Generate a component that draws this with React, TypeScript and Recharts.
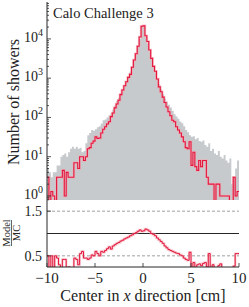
import React from "react";
import { ComposedChart, Area, Line, XAxis, YAxis, ReferenceLine } from "recharts";

const X_MIN = -10;
const X_MAX = 10;
const BIN_WIDTH = 0.2;

// counts per 0.2 cm bin
const mcCounts = [
  5, 4, 3, 4, 4, 6, 6, 10, 11, 12,
  10, 13, 16, 18, 16, 18, 16, 17, 13, 14,
  22, 35, 40, 48, 46, 50, 56, 60, 70, 85,
  89, 100, 112, 126, 158, 200, 263, 316, 417, 525,
  660, 851, 1120, 1480, 2000, 2820, 3980, 6310, 10000, 20400,
  20400, 11200, 7600, 4800, 3160, 2000, 1410, 955, 708, 525,
  398, 302, 251, 209, 178, 148, 120, 105, 93, 79,
  71, 60, 48, 42, 35, 32, 33, 28, 30, 25,
  24, 26, 20, 18, 22, 14, 16, 12, 11, 14,
  10, 9, 11, 8, 7, 9, 2, 3, 5, 8,
];

const modelCounts = [
  3, 0, 1.3, 1, 0, 3, 3, 3, 4.5, 1,
  4, 3, 3, 3, 7, 7, 5, 10, 10, 8,
  10, 16, 17, 22, 25, 32, 29, 30, 40, 50,
  58, 68, 78, 105, 130, 175, 220, 275, 380, 500,
  640, 810, 1050, 1250, 1900, 2900, 4200, 6500, 11200, 21000,
  21500, 12000, 8600, 5200, 3200, 2000, 1500, 950, 600, 450,
  330, 240, 185, 140, 110, 85, 78, 58, 48, 40,
  32, 24, 17, 16, 24, 6, 13, 5.6, 4.5, 8,
  5.6, 8, 8, 3, 2, 2, 2, 0, 2, 2,
  1, 1, 1, 1, 1, 0, 0, 3, 1, 1.3,
];

const ratioValues = [
  0.5, 0, 0.5, 0, 0.5, 0.45, 0.3, 0.2, 0.42, 0.42,
  0.2, 0.25, 0.2, 0.2, 0.45, 0.42, 0.3, 0.55, 0.6, 0.45,
  0.45, 0.42, 0.45, 0.52, 0.5, 0.6, 0.55, 0.5, 0.6, 0.58,
  0.62, 0.66, 0.7, 0.65, 0.72, 0.75, 0.78, 0.8, 0.83, 0.85,
  0.88, 0.9, 0.92, 0.95, 0.97, 1.0, 1.02, 1.05, 1.08, 1.05,
  1.06, 1.1, 1.08, 1.05, 1.0, 0.98, 0.95, 0.9, 0.86, 0.82,
  0.78, 0.72, 0.68, 0.64, 0.62, 0.6, 0.58, 0.56, 0.55, 0.52,
  0.5, 0.45, 0.42, 0.4, 0.58, 0.2, 0.35, 0.2, 0.3, 0.32,
  0.28, 0.33, 0.35, 0.25, 0.55, 0.2, 0.3, 0, 0.2, 0.28,
  0.32, 0.2, 0.2, 0, 0.1, 0, 0, 0.27, 0.55, 0.55,
];

const xTicks = [-10, -5, 0, 5, 10];
const decadeTicks = [1, 10, 100, 1000, 10000];
const ratioTicks = [0.5, 1.5];

const COUNT_DOMAIN = [0.79, 87000];
const RATIO_DOMAIN = [0.25, 1.75];

const FONT = '"Liberation Serif", "DejaVu Serif", serif';
const GREY = "#c6cacd";
const RED = "#e3163c";
const BAND = "#f3a6b3";
const FRAME = "#262626";
const TEXT = "#222";

const minorTicks = [0.1, ...decadeTicks]
  .flatMap((d) => [2, 3, 4, 5, 6, 7, 8, 9].map((m) => m * d))
  .filter((v) => v > COUNT_DOMAIN[0] && v < COUNT_DOMAIN[1]);
const logTicks = [...decadeTicks, ...minorTicks].sort((a, b) => a - b);

// empty bins sit below the log axis and get clipped
const rows = mcCounts.map((mc, i) => ({
  x: X_MIN + i * BIN_WIDTH,
  mc: Math.max(mc, 0.1),
  model: Math.max(modelCounts[i], 0.1),
  ratio: ratioValues[i],
}));
rows.push({ ...rows[rows.length - 1], x: X_MAX });

function LogTick({ x, y, payload }: any) {
  const exp = Math.log10(payload.value);
  const major = Math.abs(exp - Math.round(exp)) < 1e-9;
  const axisX = x + 4;
  return (
    <g>
      <line x1={axisX} x2={axisX + (major ? 4 : 2)} y1={y} y2={y} stroke={FRAME} strokeWidth={0.8} />
      {major && (
        <text x={x} y={y + 3} textAnchor="end" fontFamily={FONT} fontSize={14} fill={TEXT}>
          10
          <tspan dy={-6} fontSize={10}>
            {Math.round(exp)}
          </tspan>
        </text>
      )}
    </g>
  );
}

function RatioTick({ x, y, payload }: any) {
  const axisX = x + 4;
  return (
    <g>
      <line x1={axisX} x2={axisX + 4} y1={y} y2={y} stroke={FRAME} strokeWidth={0.8} />
      <text x={x - 1} y={y + 5} textAnchor="end" fontFamily={FONT} fontSize={14} fill={TEXT}>
        {payload.value.toFixed(1)}
      </text>
    </g>
  );
}

function XTick({ x, y, payload }: any) {
  const axisY = y - 4;
  const v = payload.value;
  return (
    <g>
      <line x1={x} x2={x} y1={axisY} y2={axisY - 4} stroke={FRAME} strokeWidth={0.8} />
      <text x={x} y={axisY + 16} textAnchor="middle" fontFamily={FONT} fontSize={15} fill={TEXT}>
        {v < 0 ? `\u2212${Math.abs(v)}` : `${v}`}
      </text>
    </g>
  );
}

export default function App() {
  return (
    <div style={{ position: "absolute", left: 0, top: 0, width: 249, height: 307, background: "#fff" }}>
      <div style={{ position: "absolute", left: 0, top: 0 }}>
        <ComposedChart width={249} height={201} data={rows} margin={{ top: 2, right: 10, bottom: 1, left: 0 }}>
          <XAxis dataKey="x" type="number" domain={[X_MIN, X_MAX]} allowDataOverflow hide />
          <XAxis
            xAxisId="frameTop"
            orientation="top"
            type="number"
            domain={[X_MIN, X_MAX]}
            height={0}
            tick={false}
            tickLine={false}
            axisLine={{ stroke: FRAME }}
          />
          <YAxis
            scale="log"
            type="number"
            domain={COUNT_DOMAIN}
            allowDataOverflow
            ticks={logTicks}
            interval={0}
            width={47}
            tickSize={0}
            tickMargin={4}
            tickLine={false}
            tick={<LogTick />}
            axisLine={{ stroke: FRAME }}
          />
          <YAxis
            yAxisId="frameRight"
            orientation="right"
            type="number"
            domain={[0, 1]}
            width={0}
            tick={false}
            tickLine={false}
            axisLine={{ stroke: FRAME }}
          />
          <Area
            type="stepAfter"
            dataKey="mc"
            fill={GREY}
            fillOpacity={1}
            stroke="none"
            baseValue={COUNT_DOMAIN[0]}
            isAnimationActive={false}
          />
          <Line type="stepAfter" dataKey="model" stroke={BAND} strokeOpacity={0.7} strokeWidth={2.6} dot={false} isAnimationActive={false} />
          <Line type="stepAfter" dataKey="model" stroke={RED} strokeWidth={1.1} dot={false} isAnimationActive={false} />
        </ComposedChart>
      </div>
      <div style={{ position: "absolute", left: 0, top: 199 }}>
        <ComposedChart width={249} height={108} data={rows} margin={{ top: 1, right: 10, bottom: 0, left: 0 }}>
          <XAxis
            dataKey="x"
            type="number"
            domain={[X_MIN, X_MAX]}
            allowDataOverflow
            ticks={xTicks}
            interval={0}
            height={40}
            tickSize={0}
            tickMargin={4}
            tickLine={false}
            tick={<XTick />}
            axisLine={{ stroke: FRAME }}
          />
          <XAxis
            xAxisId="frameTop"
            orientation="top"
            type="number"
            domain={[X_MIN, X_MAX]}
            height={0}
            tick={false}
            tickLine={false}
            axisLine={{ stroke: FRAME }}
          />
          <YAxis
            type="number"
            domain={RATIO_DOMAIN}
            allowDataOverflow
            ticks={ratioTicks}
            interval={0}
            width={47}
            tickSize={0}
            tickMargin={4}
            tickLine={false}
            tick={<RatioTick />}
            axisLine={{ stroke: FRAME }}
          />
          <YAxis
            yAxisId="frameRight"
            orientation="right"
            type="number"
            domain={[0, 1]}
            width={0}
            tick={false}
            tickLine={false}
            axisLine={{ stroke: FRAME }}
          />
          <ReferenceLine y={1.5} stroke="#a0a0a0" strokeDasharray="3 2" />
          <ReferenceLine y={0.5} stroke="#a0a0a0" strokeDasharray="3 2" />
          <ReferenceLine y={1} stroke={FRAME} />
          <Line type="stepAfter" dataKey="ratio" stroke={BAND} strokeOpacity={0.6} strokeWidth={2.4} dot={false} isAnimationActive={false} />
          <Line type="stepAfter" dataKey="ratio" stroke={RED} strokeWidth={1} dot={false} isAnimationActive={false} />
        </ComposedChart>
      </div>
      <svg width={249} height={307} style={{ position: "absolute", left: 0, top: 0, pointerEvents: "none" }}>
        <text x={53} y={18} fontFamily={FONT} fontSize={14.5} fill={TEXT}>
          Calo Challenge 3
        </text>
        <text
          x={19}
          y={102}
          transform="rotate(-90 19 102)"
          textAnchor="middle"
          fontFamily={FONT}
          fontSize={16}
          fill={TEXT}
        >
          Number of showers
        </text>
        <g transform="rotate(-90 12 233)">
          <text x={12} y={231} textAnchor="middle" fontFamily={FONT} fontSize={10.5} fill={TEXT}>
            Model
          </text>
          <line x1={-1} x2={25} y1={232.5} y2={232.5} stroke={TEXT} strokeWidth={0.7} />
          <text x={12} y={241} textAnchor="middle" fontFamily={FONT} fontSize={10.5} fill={TEXT}>
            MC
          </text>
        </g>
        <text x={143} y={301} textAnchor="middle" fontFamily={FONT} fontSize={16} fill={TEXT}>
          Center in <tspan fontStyle="italic">x</tspan> direction [cm]
        </text>
      </svg>
    </div>
  );
}
